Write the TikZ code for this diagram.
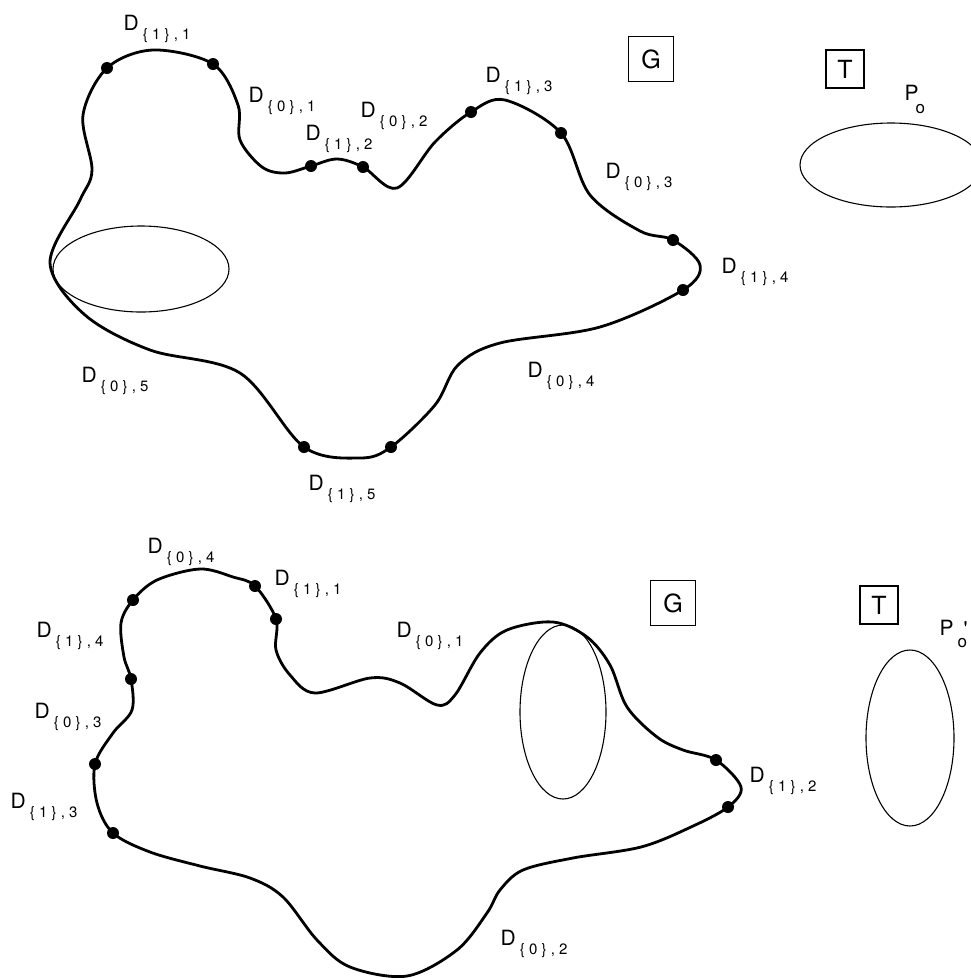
\documentclass[tikz,border=0pt]{standalone}
\usepackage{fontspec}
\setmainfont{TeX Gyre Heros}
\newfontfamily\subfont[LetterSpace=28]{TeX Gyre Heros}
\usetikzlibrary{shapes.geometric}

\newcommand{\seglab}[2]{D\hspace{4pt}\raisebox{-9pt}{\fontsize{15}{15}\subfont\{#1\},#2}}

\tikzset{
  boundary/.style={line width=2.8pt, line join=round},
  disk/.style={circle, fill, inner sep=0pt, minimum size=12pt},
  ring/.style={ellipse, draw, line width=1.1pt, inner sep=0pt},
  frame/.style={draw, line width=1.3pt, inner sep=0pt, font=\fontsize{25}{25}\selectfont},
  seg/.style={anchor=base west, inner sep=0pt, font=\fontsize{21}{21}\selectfont},
}

\begin{document}
\begin{tikzpicture}[x=1pt,y=-1pt]
\useasboundingbox (0,0) rectangle (971,978);
\clip (0,0) rectangle (971,978);
% upper picture
\node[disk] (a1) at (107,68) {};
\node[disk] (a2) at (213,64) {};
\node[disk] (a3) at (311,166) {};
\node[disk] (a4) at (363,167) {};
\node[disk] (a5) at (471,112) {};
\node[disk] (a6) at (561,133) {};
\node[disk] (a7) at (673,240) {};
\node[disk] (a8) at (683,290) {};
\node[disk] (a9) at (391,447) {};
\node[disk] (a10) at (304,447) {};
\draw[boundary] plot[smooth cycle, tension=0.55] coordinates {
  (a1.center) (153,50) (a2.center) (238,105) (240,140) (262,167) (285,173)
  (a3.center) (337,159) (a4.center) (397,188) (435,142) (a5.center) (505,100)
  (a6.center) (590,195) (640,231) (a7.center) (700,265) (a8.center) (600,327)
  (500,343) (458,365) (435,405) (a9.center) (360,458) (a10.center) (240,373)
  (150,350) (85,315) (50,263) (80,200) (92,170) (83,115)};
\node[ring, minimum width=176pt, minimum height=86pt] (hole1) at (141,269) {};
%
\node[seg] (u11) at (123.5,30) {\seglab{1}{1}};
\node[seg] (u01) at (248.5,102) {\seglab{0}{1}};
\node[seg] (u12) at (305.5,140) {\seglab{1}{2}};
\node[seg] (u02) at (360.5,117) {\seglab{0}{2}};
\node[seg] (u13) at (485.5,82) {\seglab{1}{3}};
\node[seg] (u03) at (605.5,178) {\seglab{0}{3}};
\node[seg] (u14) at (721.5,273) {\seglab{1}{4}};
\node[seg] (u04) at (527.5,377) {\seglab{0}{4}};
\node[seg] (u05) at (81.5,382) {\seglab{0}{5}};
\node[seg] (u15) at (308.5,490) {\seglab{1}{5}};
%
\node[frame, minimum size=45pt] (gtop) at (651,59) {G};
\node[frame, minimum size=38pt] (ttop) at (845,69) {T};
\node[ring, minimum width=182pt, minimum height=84pt] (po) at (891,165) {};
\node[seg] (potext) at (904.5,100) {P\kern-3pt\raisebox{-13pt}{\fontsize{17}{17}\selectfont o}};
% lower picture
\node[disk] (b1) at (133,600) {};
\node[disk] (b2) at (255,586) {};
\node[disk] (b3) at (276,619) {};
\node[disk] (b4) at (716,760) {};
\node[disk] (b5) at (728,807) {};
\node[disk] (b6) at (113,833) {};
\node[disk] (b7) at (95,764) {};
\node[disk] (b8) at (131,679) {};
\draw[boundary] plot[smooth cycle, tension=0.55] coordinates {
  (b1.center) (157,580) (200,569) (233,577) (b2.center) (b3.center) (276,650)
  (290,675) (315,693) (370,678) (400,683) (437,705) (455,695) (480,653)
  (507,630) (553,622) (587,637) (610,665) (627,707) (657,737) (683,750)
  (b4.center) (741,787) (b5.center) (691,827) (641,847) (573,858) (523,870)
  (500,890) (487,913) (457,950) (407,976) (350,967) (317,940) (283,897)
  (250,878) (200,866) (150,852) (b6.center) (97,803) (b7.center) (113,733)
  (132,710) (b8.center) (124,657) (121,623)};
\node[ring, minimum width=86pt, minimum height=174pt] (hole2) at (563,712) {};
%
\node[seg] (w04) at (147.5,553) {\seglab{0}{4}};
\node[seg] (w11) at (274.5,585) {\seglab{1}{1}};
\node[seg] (w14) at (36.5,637) {\seglab{1}{4}};
\node[seg] (w03) at (34.5,718) {\seglab{0}{3}};
\node[seg] (w13) at (10.5,808) {\seglab{1}{3}};
\node[seg] (w01) at (396.5,637) {\seglab{0}{1}};
\node[seg] (w12) at (749.5,782) {\seglab{1}{2}};
\node[seg] (w02) at (500.5,945) {\seglab{0}{2}};
%
\node[frame, minimum size=45pt] (gbot) at (673,603) {G};
\node[frame, minimum size=38pt] (tbot) at (879,605) {T};
\node[ring, minimum width=88pt, minimum height=176pt] (pop) at (910,738) {};
\node[seg] (poptext) at (939.5,635) {P\kern4pt\rlap{\raisebox{-12pt}{\fontsize{17}{17}\selectfont o}}\kern6pt\raisebox{-1pt}{\textquotesingle}};
\end{tikzpicture}
\end{document}
